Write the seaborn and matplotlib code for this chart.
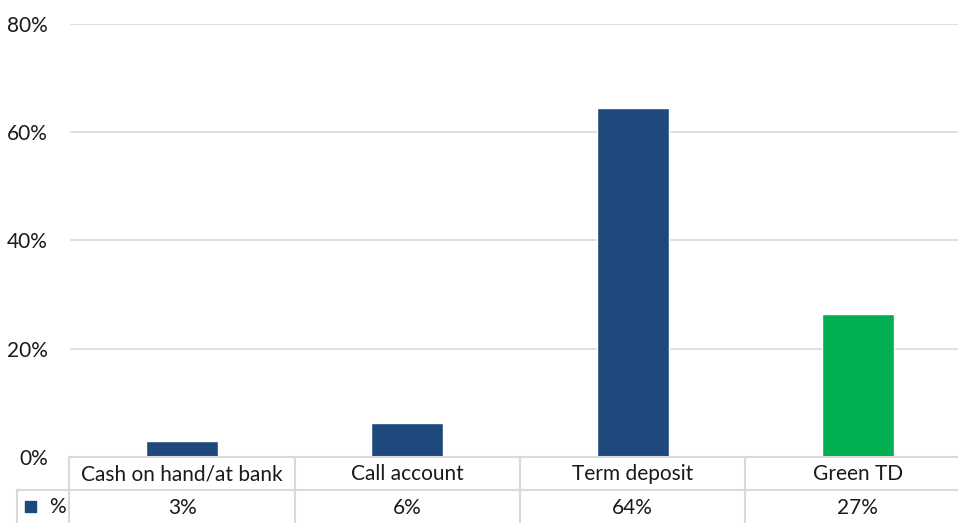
import matplotlib
matplotlib.use("Agg")
import matplotlib.pyplot as plt
import matplotlib.transforms as mtransforms
from matplotlib.patches import Rectangle
import seaborn as sns

# data
categories = ["Cash on hand/at bank", "Call account", "Term deposit", "Green TD"]
values = [3.0, 6.3, 64.4, 26.4]
value_labels = ["3%", "6%", "64%", "27%"]
bar_colors = ["#1F497D", "#1F497D", "#1F497D", "#00B050"]
series_name = "%"
yticks = [0, 20, 40, 60, 80]

sns.set_theme(style="white")
plt.rcParams["font.family"] = ["Lato", "DejaVu Sans"]

W, H = 958, 523
fig = plt.figure(figsize=(W / 100, H / 100), dpi=100)

# plot area in pixels (right edge runs past the figure, as in the reference)
left_px, right_px, top_px, bottom_px = 69.5, 970.5, 24, 457
ax = fig.add_axes([left_px / W, 1 - bottom_px / H,
                   (right_px - left_px) / W, (bottom_px - top_px) / H])

sns.barplot(x=categories, y=values, hue=categories, palette=bar_colors,
            dodge=False, width=0.32, legend=False, saturation=1, ax=ax)

txt_color = "#1A1A1A"
ax.set_xlim(-0.5, len(categories) - 0.5)
ax.set_ylim(0, 80)
ax.set_yticks(yticks)
ax.set_yticklabels([f"{t}%" for t in yticks], fontsize=15, color=txt_color)
ax.yaxis.grid(True, color="#D9D9D9", linewidth=1.2)
ax.set_axisbelow(True)
ax.tick_params(axis="y", length=0, pad=15.5)
ax.set_xticks([])
ax.set_xlabel("")
ax.set_ylabel("")
sns.despine(ax=ax, left=True, bottom=True, top=True, right=True)

# data table below the plot
line_kw = dict(color="#D9D9D9", linewidth=1.5, clip_on=False)
blend = mtransforms.blended_transform_factory(ax.transData, fig.transFigure)
fy = lambda px: 1 - px / H
fx = lambda px: px / W

row1_top, row2_top, row2_bot = 457, 490, 523
n = len(categories)

# horizontal lines
fig.add_artist(plt.Line2D([fx(left_px), 1.0], [fy(row1_top)] * 2, **line_kw))
fig.add_artist(plt.Line2D([fx(17), 1.0], [fy(row2_top)] * 2, **line_kw))
# vertical lines
for i in range(n):
    ax.add_line(plt.Line2D([i - 0.5, i - 0.5], [fy(row1_top), fy(row2_bot)],
                           transform=blend, **line_kw))
fig.add_artist(plt.Line2D([fx(17), fx(17)], [fy(row2_top), fy(row2_bot)], **line_kw))

for i, (cat, lab) in enumerate(zip(categories, value_labels)):
    ax.text(i, fy((row1_top + row2_top) / 2 + 1), cat, transform=blend,
            ha="center", va="center", fontsize=15, color=txt_color)
    ax.text(i, fy((row2_top + row2_bot) / 2 + 1), lab, transform=blend,
            ha="center", va="center", fontsize=15, color=txt_color)

# legend key in table
fig.add_artist(Rectangle((fx(25), fy(512)), 11 / W, 11 / H,
                         transform=fig.transFigure, color=bar_colors[0]))
fig.text(fx(49), fy(507), series_name, ha="left", va="center",
         fontsize=15, color=txt_color)

fig.savefig("out.png", dpi=100)
